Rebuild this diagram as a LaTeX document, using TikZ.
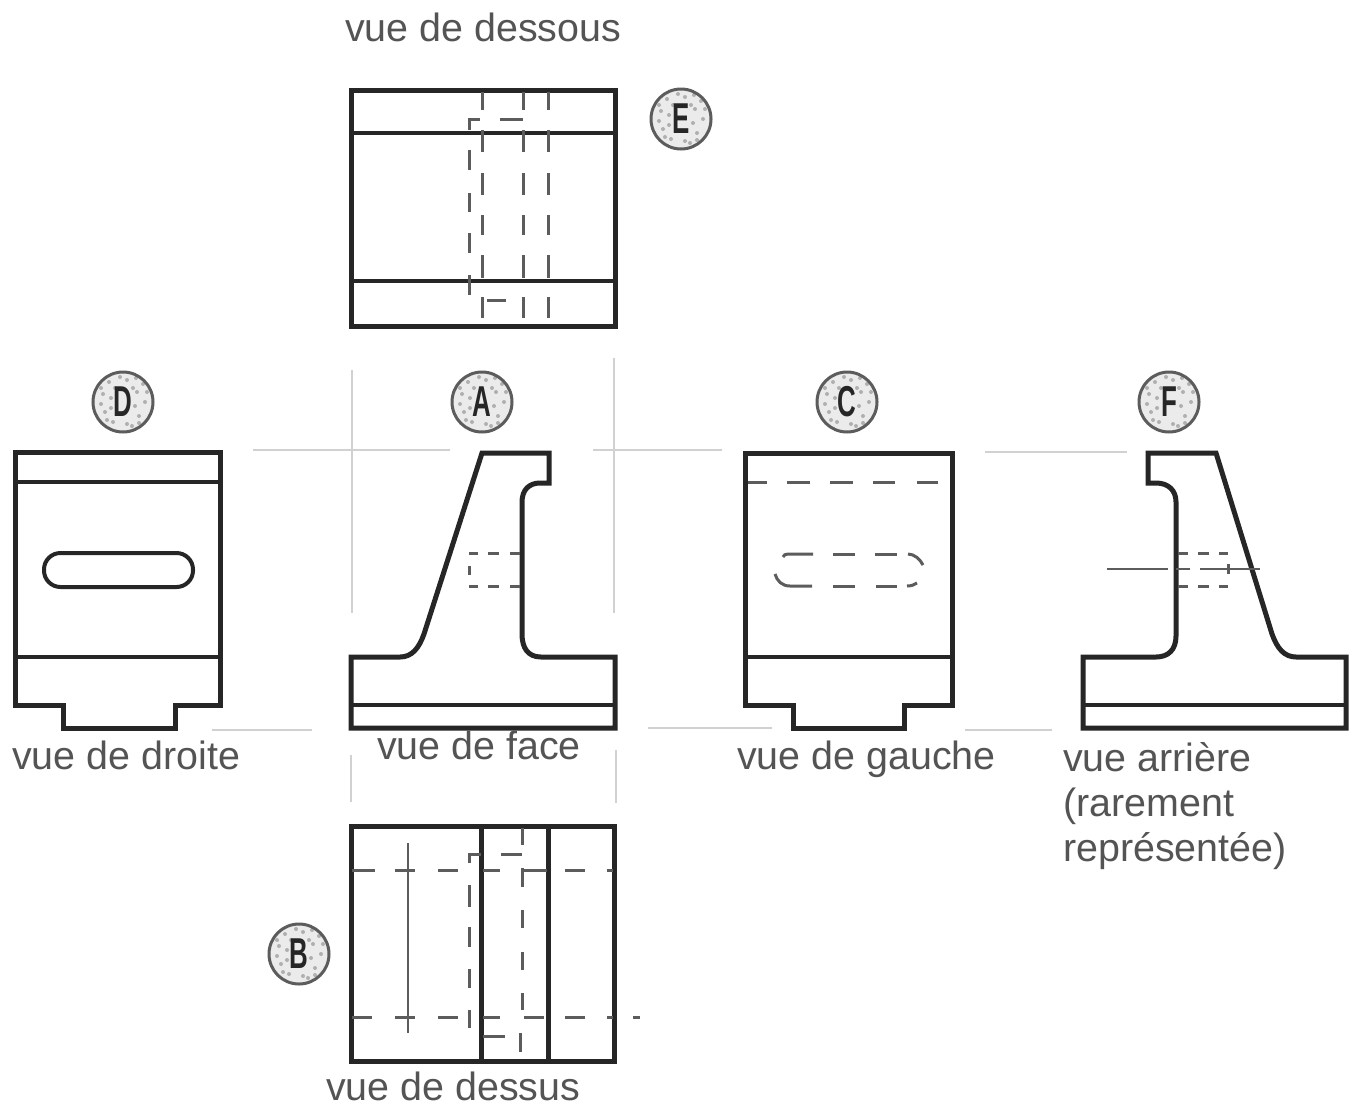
\documentclass[tikz,border=0pt]{standalone}
\usepackage{graphicx}
\usepackage{fontspec}
\setmainfont{Liberation Sans}
\definecolor{ink}{gray}{0.15}
\definecolor{dashink}{gray}{0.36}
\definecolor{txt}{gray}{0.33}
\definecolor{cons}{gray}{0.82}
\definecolor{stip}{gray}{0.92}
\newcommand{\markletter}[1]{\scalebox{0.72}[1.2]{\textbf{#1}}}
\tikzset{
  outline/.style={draw=ink,line width=5pt,line join=miter},
  inner/.style={draw=ink,line width=4.4pt},
  hid/.style={draw=dashink,line width=3pt},
  thin line/.style={draw=dashink,line width=2.2pt},
  cons line/.style={draw=cons,line width=2.4pt},
  lab/.style={font=\fontsize{39.4}{45}\selectfont,text=txt,anchor=base west,inner sep=0pt},
  mark circle/.style={circle,minimum size=60pt,inner sep=0pt,draw=dashink,line width=3pt,fill=stip,
     font=\fontsize{36}{36}\selectfont,text=ink,
     path picture={
       \foreach \dx/\dy in {-18/-10,-10/-20,4/-22,16/-14,22/0,14/10,20/18,4/22,-8/14,-20/8,-14/20,-22/-2,12/-4,-12/-6,9/-24,-3/25,-22/14,24/10,16/-21,-16/-18,13/24,-12/4,10/14}
         \fill[gray!62] ([shift={(\dx pt,\dy pt)}]path picture bounding box.center) circle (2pt);
     }},
}
\begin{document}
\begin{tikzpicture}[x=1pt,y=-1pt]
\useasboundingbox (0,0) rectangle (1356,1106);
\fill[white] (0,0) rectangle (1356,1106);

% construction lines
\draw[cons line] (352,370) -- (352,613);
\draw[cons line] (614,358) -- (614,613);
\draw[cons line] (253,450) -- (450,450);
\draw[cons line] (593,450) -- (722,450);
\draw[cons line] (985,452) -- (1127,452);
\draw[cons line] (212,730) -- (312,730);
\draw[cons line] (648,728) -- (772,728);
\draw[cons line] (965,730) -- (1052,730);
\draw[cons line] (351,755) -- (351,802);
\draw[cons line] (616,750) -- (616,803);

% view E
\draw[outline] (351,90) rectangle (615,326);
\draw[inner] (351,133) -- (615,133);
\draw[inner] (351,281) -- (615,281);
\foreach \x in {482,523,548}
  \foreach \a/\b in {92/110,130/152,173/195,215/235,255/278,297/318}
    \draw[hid] (\x,\a) -- (\x,\b);
\draw[hid] (480,119) -- (469,119) -- (469,130);
\draw[hid] (500,119) -- (523,119);
\foreach \a/\b in {150/170,193/212,233/253,275/295}
  \draw[hid] (469,\a) -- (469,\b);
\draw[hid] (487,300) -- (506,300);

% view D
\draw[outline] (63,705) -- (15,705) -- (15,452) -- (220,452) -- (220,705) -- (175,705) -- (175,728) -- (63,728) -- cycle;
\draw[inner] (15,482) -- (220,482);
\draw[inner] (15,657) -- (220,657);
\draw[draw=ink,line width=4pt,rounded corners=16.5pt] (44,553) rectangle (193,587);

% view A
\draw[outline] (482,453) -- (549,453) -- (549,483) -- (540,483)
  .. controls (529,483) and (522,490) .. (522,502) -- (522,634)
  .. controls (522,648) and (528,657) .. (541,657) -- (615,657) -- (615,728) -- (351,728) -- (351,657) -- (400,657)
  .. controls (412,657) and (419,648) .. (424,634) -- cycle;
\draw[inner] (351,705) -- (615,705);
\foreach \y in {553,586}
  \foreach \a/\b in {469/478,488/499,510/520}
    \draw[hid] (\a,\y) -- (\b,\y);
\draw[hid] (469,566) -- (469,575);

% view C
\draw[outline] (793,705) -- (745,705) -- (745,453) -- (952,453) -- (952,705) -- (904,705) -- (904,728) -- (793,728) -- cycle;
\draw[inner] (745,657) -- (952,657);
\foreach \a/\b in {748/767,787/810,830/853,873/895,917/938}
  \draw[hid] (\a,482) -- (\b,482);
\draw[hid] (783,557) .. controls (784,555) and (785,554) .. (788,554) -- (813,554);
\draw[hid] (833,554) -- (855,554);
\draw[hid] (875,554) -- (897,554);
\draw[hid] (908,554) .. controls (914,554) and (920,559) .. (923,565);
\draw[hid] (775,574) .. controls (777,581) and (782,586) .. (790,586) -- (812,586);
\draw[hid] (833,586) -- (855,586);
\draw[hid] (876,586) -- (897,586);
\draw[hid] (907,586) .. controls (911,586) and (914,585) .. (917,583);

% view F
\draw[outline] (1216,453) -- (1148,453) -- (1148,483) -- (1156,483)
  .. controls (1168,483) and (1176,490) .. (1176,502) -- (1176,636)
  .. controls (1176,650) and (1168,657) .. (1156,657) -- (1083,657) -- (1083,728) -- (1346,728) -- (1346,657) -- (1296,657)
  .. controls (1284,657) and (1277,648) .. (1272,634) -- cycle;
\draw[inner] (1083,705) -- (1346,705);
\foreach \y in {553,586}
  \foreach \a/\b in {1178/1188,1198/1209,1219/1228}
    \draw[hid] (\a,\y) -- (\b,\y);
\draw[thin line] (1107,569) -- (1168,569);
\draw[thin line] (1176,569) -- (1190,569);
\draw[thin line] (1200,569) -- (1260,569);
\draw[hid] (1228,564) -- (1228,574);

% view B
\draw[outline] (351,826) rectangle (614,1061);
\draw[outline] (481,826) -- (481,1061);
\draw[outline] (548,826) -- (548,1061);
\draw[thin line] (408,843) -- (408,1033);
\foreach \a/\b in {352/375,395/415,438/458,483/500,522/547,565/585,607/613}
  \draw[hid] (\a,870) -- (\b,870);
\foreach \a/\b in {352/372,395/415,438/458,483/500,524/544,565/585,607/613,633/640}
  \draw[hid] (\a,1017) -- (\b,1017);
\draw[hid] (469,863) -- (469,854) -- (481,854);
\draw[hid] (501,854) -- (522,854);
\foreach \a/\b in {885/907,927/947,969/988,1010/1028}
  \draw[hid] (469,\a) -- (469,\b);
\foreach \a/\b in {828/845,868/887,910/928,952/970,993/1010}
  \draw[hid] (522,\a) -- (522,\b);
\draw[hid] (520,1033) -- (520,1052);
\draw[hid] (483,1036) -- (505,1036);

% letter marks
\node[mark circle] (markE) at (681,119) {\markletter{E}};
\node[mark circle] (markD) at (123,402) {\markletter{D}};
\node[mark circle] (markA) at (482,402) {\markletter{A}};
\node[mark circle] (markC) at (847,402) {\markletter{C}};
\node[mark circle] (markF) at (1169,402) {\markletter{F}};
\node[mark circle] (markB) at (299,954) {\markletter{B}};

% labels
\node[lab] (labE) at (345,41) {vue de dessous};
\node[lab] (labD) at (12,769) {vue de droite};
\node[lab] (labA) at (377,759) {vue de face};
\node[lab] (labC) at (737,769) {vue de gauche};
\node[lab] (labFa) at (1063,771) {vue arrière};
\node[lab] (labFb) at (1063,816) {(rarement};
\node[lab] (labFc) at (1063,861) {représentée)};
\node[lab] (labB) at (326,1100) {vue de dessus};
\end{tikzpicture}
\end{document}
